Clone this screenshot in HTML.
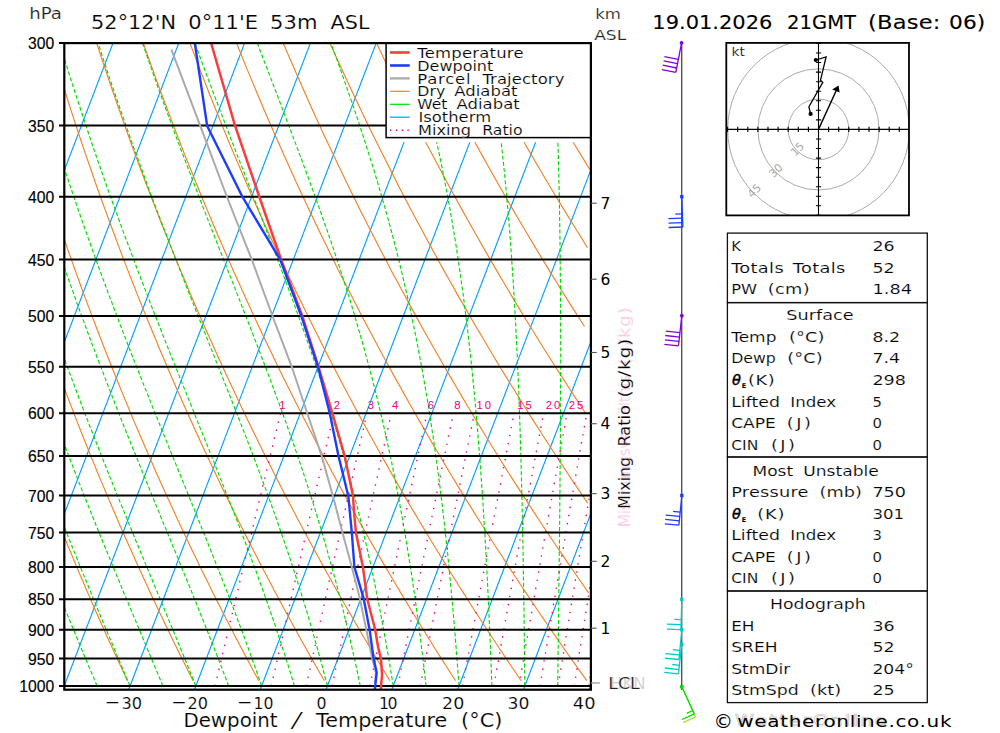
<!DOCTYPE html>
<html lang="en"><head><meta charset="utf-8"><title>Skew-T sounding 52°12'N 0°11'E</title>
<style>
html,body{margin:0;padding:0;background:#fff}
body{width:1000px;height:733px;overflow:hidden}
svg{display:block}
text{font-family:"DejaVu Sans","Liberation Sans",sans-serif;white-space:pre}
.hv text,text.hv{font-family:"Liberation Sans","DejaVu Sans",sans-serif}
.thb{font-style:italic;font-size:14.5px;stroke:#000;stroke-width:.45px}
.ths{font-weight:bold;font-size:6.5px;stroke:none}
</style></head><body>
<svg width="1000" height="733" viewBox="0 0 1000 733">
<defs>
<clipPath id="cc"><rect x="64.3" y="43.1" width="526.6" height="646.6"/></clipPath>
<clipPath id="hc"><rect x="726.3" y="42.9" width="182.7" height="172.5"/></clipPath>
</defs>
<rect width="1000" height="733" fill="#fff"/>
<g clip-path="url(#cc)" fill="none" stroke-width="1.15">
<g stroke="rgb(0,160,255)">
<path d="M-463.6 689.7L-216 43.1" />
<path d="M-397.8 689.7L-150.2 43.1" />
<path d="M-332 689.7L-84.4 43.1" />
<path d="M-266.2 689.7L-18.6 43.1" />
<path d="M-200.4 689.7L47.2 43.1" />
<path d="M-134.6 689.7L113 43.1" />
<path d="M-68.8 689.7L178.8 43.1" />
<path d="M-3 689.7L244.6 43.1" />
<path d="M62.8 689.7L310.4 43.1" />
<path d="M128.6 689.7L376.2 43.1" />
<path d="M194.4 689.7L442 43.1" />
<path d="M260.2 689.7L507.8 43.1" />
<path d="M326 689.7L573.6 43.1" />
<path d="M391.8 689.7L639.4 43.1" />
<path d="M457.6 689.7L705.2 43.1" />
<path d="M523.4 689.7L771 43.1" />
<path d="M589.2 689.7L836.8 43.1" />
</g>
<g stroke="rgb(240,130,40)">
<path d="M62.5 532.4L65.4 539.5L68.2 546.5L71.1 553.3L73.9 560.1L76.7 566.9L79.5 573.5L82.3 580L85.1 586.5L87.8 592.9L90.6 599.2L93.3 605.5L96 611.7L98.7 617.8L101.4 623.8L104.1 629.8L106.7 635.7L109.4 641.5L112 647.3L114.6 653L117.2 658.6L119.8 664.2L122.4 669.8L124.9 675.2L127.5 680.7" />
<path d="M63.4 385.8L66.9 395.1L70.4 404.3L73.9 413.2L77.3 422.1L80.7 430.8L84.1 439.3L87.5 447.7L90.8 456L94.1 464.1L97.4 472.2L100.7 480.1L104 487.9L107.2 495.6L110.4 503.1L113.6 510.6L116.8 518L119.9 525.2L123.1 532.4L126.2 539.5L129.3 546.5L132.4 553.3L135.4 560.1L138.5 566.9L141.5 573.5L144.5 580L147.5 586.5L150.4 592.9L153.4 599.2L156.3 605.5L159.2 611.7L162.2 617.8L165 623.8L167.9 629.8L170.8 635.7L173.6 641.5L176.4 647.3L179.2 653L182 658.6L184.8 664.2L187.6 669.8L190.3 675.2L193.1 680.7" />
<path d="M62.9 235.3L67.1 247.6L71.4 259.6L75.6 271.4L79.7 282.8L83.8 294.1L87.9 305.1L92 315.9L96 326.5L100 336.8L103.9 347L107.9 357L111.7 366.8L115.6 376.4L119.4 385.8L123.2 395.1L127 404.3L130.7 413.2L134.4 422.1L138.1 430.8L141.8 439.3L145.4 447.7L149 456L152.6 464.1L156.1 472.2L159.6 480.1L163.2 487.9L166.6 495.6L170.1 503.1L173.5 510.6L176.9 518L180.3 525.2L183.7 532.4L187 539.5L190.3 546.5L193.6 553.3L196.9 560.1L200.2 566.9L203.4 573.5L206.7 580L209.9 586.5L213 592.9L216.2 599.2L219.4 605.5L222.5 611.7L225.6 617.8L228.7 623.8L231.8 629.8L234.8 635.7L237.9 641.5L240.9 647.3L243.9 653L246.9 658.6L249.9 664.2L252.8 669.8L255.8 675.2L258.7 680.7" />
<path d="M60.6 77.6L65.8 94L70.9 109.9L75.9 125.4L80.9 140.5L85.9 155.1L90.8 169.3L95.6 183.2L100.4 196.7L105.2 209.9L109.9 222.8L114.6 235.3L119.2 247.6L123.7 259.6L128.3 271.4L132.7 282.8L137.2 294.1L141.6 305.1L146 315.9L150.3 326.5L154.6 336.8L158.8 347L163 357L167.2 366.8L171.3 376.4L175.4 385.8L179.5 395.1L183.6 404.3L187.6 413.2L191.6 422.1L195.5 430.8L199.4 439.3L203.3 447.7L207.2 456L211 464.1L214.8 472.2L218.6 480.1L222.3 487.9L226 495.6L229.7 503.1L233.4 510.6L237.1 518L240.7 525.2L244.3 532.4L247.9 539.5L251.4 546.5L254.9 553.3L258.4 560.1L261.9 566.9L265.4 573.5L268.8 580L272.2 586.5L275.6 592.9L279 599.2L282.4 605.5L285.7 611.7L289 617.8L292.3 623.8L295.6 629.8L298.9 635.7L302.1 641.5L305.3 647.3L308.5 653L311.7 658.6L314.9 664.2L318 669.8L321.2 675.2L324.3 680.7" />
<path d="M96.7 43.1L102.4 60.6L108.1 77.6L113.7 94L119.2 109.9L124.7 125.4L130.1 140.5L135.4 155.1L140.7 169.3L145.9 183.2L151.1 196.7L156.2 209.9L161.2 222.8L166.3 235.3L171.2 247.6L176.1 259.6L181 271.4L185.8 282.8L190.5 294.1L195.2 305.1L199.9 315.9L204.5 326.5L209.1 336.8L213.7 347L218.2 357L222.7 366.8L227.1 376.4L231.5 385.8L235.8 395.1L240.1 404.3L244.4 413.2L248.7 422.1L252.9 430.8L257.1 439.3L261.2 447.7L265.3 456L269.4 464.1L273.5 472.2L277.5 480.1L281.5 487.9L285.5 495.6L289.4 503.1L293.3 510.6L297.2 518L301.1 525.2L304.9 532.4L308.7 539.5L312.5 546.5L316.2 553.3L319.9 560.1L323.7 566.9L327.3 573.5L331 580L334.6 586.5L338.2 592.9L341.8 599.2L345.4 605.5L348.9 611.7L352.5 617.8L356 623.8L359.5 629.8L362.9 635.7L366.4 641.5L369.8 647.3L373.2 653L376.6 658.6L379.9 664.2L383.3 669.8L386.6 675.2L389.9 680.7" />
<path d="M143.3 43.1L149.5 60.6L155.6 77.6L161.6 94L167.5 109.9L173.4 125.4L179.2 140.5L184.9 155.1L190.6 169.3L196.2 183.2L201.7 196.7L207.2 209.9L212.6 222.8L217.9 235.3L223.2 247.6L228.5 259.6L233.7 271.4L238.8 282.8L243.9 294.1L248.9 305.1L253.9 315.9L258.8 326.5L263.7 336.8L268.6 347L273.4 357L278.1 366.8L282.8 376.4L287.5 385.8L292.1 395.1L296.7 404.3L301.3 413.2L305.8 422.1L310.3 430.8L314.7 439.3L319.1 447.7L323.5 456L327.9 464.1L332.2 472.2L336.4 480.1L340.7 487.9L344.9 495.6L349.1 503.1L353.2 510.6L357.3 518L361.4 525.2L365.5 532.4L369.5 539.5L373.5 546.5L377.5 553.3L381.5 560.1L385.4 566.9L389.3 573.5L393.2 580L397 586.5L400.8 592.9L404.6 599.2L408.4 605.5L412.2 611.7L415.9 617.8L419.6 623.8L423.3 629.8L427 635.7L430.6 641.5L434.2 647.3L437.8 653L441.4 658.6L445 664.2L448.5 669.8L452 675.2L455.5 680.7" />
<path d="M189.9 43.1L196.6 60.6L203.1 77.6L209.5 94L215.9 109.9L222.1 125.4L228.3 140.5L234.4 155.1L240.5 169.3L246.4 183.2L252.3 196.7L258.2 209.9L263.9 222.8L269.6 235.3L275.3 247.6L280.8 259.6L286.4 271.4L291.8 282.8L297.2 294.1L302.6 305.1L307.9 315.9L313.1 326.5L318.3 336.8L323.4 347L328.5 357L333.6 366.8L338.6 376.4L343.5 385.8L348.4 395.1L353.3 404.3L358.1 413.2L362.9 422.1L367.7 430.8L372.4 439.3L377.1 447.7L381.7 456L386.3 464.1L390.8 472.2L395.4 480.1L399.8 487.9L404.3 495.6L408.7 503.1L413.1 510.6L417.5 518L421.8 525.2L426.1 532.4L430.4 539.5L434.6 546.5L438.8 553.3L443 560.1L447.1 566.9L451.2 573.5L455.3 580L459.4 586.5L463.4 592.9L467.5 599.2L471.4 605.5L475.4 611.7L479.3 617.8L483.3 623.8L487.1 629.8L491 635.7L494.9 641.5L498.7 647.3L502.5 653L506.2 658.6L510 664.2L513.7 669.8L517.4 675.2L521.1 680.7" />
<path d="M236.6 43.1L243.6 60.6L250.6 77.6L257.4 94L264.2 109.9L270.9 125.4L277.5 140.5L284 155.1L290.4 169.3L296.7 183.2L303 196.7L309.2 209.9L315.3 222.8L321.3 235.3L327.3 247.6L333.2 259.6L339 271.4L344.8 282.8L350.6 294.1L356.2 305.1L361.8 315.9L367.4 326.5L372.9 336.8L378.3 347L383.7 357L389 366.8L394.3 376.4L399.6 385.8L404.8 395.1L409.9 404.3L415 413.2L420.1 422.1L425.1 430.8L430 439.3L435 447.7L439.9 456L444.7 464.1L449.5 472.2L454.3 480.1L459 487.9L463.7 495.6L468.4 503.1L473 510.6L477.6 518L482.2 525.2L486.7 532.4L491.2 539.5L495.6 546.5L500.1 553.3L504.5 560.1L508.8 566.9L513.2 573.5L517.5 580L521.8 586.5L526 592.9L530.3 599.2L534.5 605.5L538.6 611.7L542.8 617.8L546.9 623.8L551 629.8L555.1 635.7L559.1 641.5L563.1 647.3L567.1 653L571.1 658.6L575 664.2L579 669.8L582.9 675.2L586.7 680.7" />
<path d="M283.2 43.1L290.7 60.6L298.1 77.6L305.4 94L312.5 109.9L319.6 125.4L326.6 140.5L333.5 155.1L340.3 169.3L347 183.2L353.6 196.7L360.1 209.9L366.6 222.8L373 235.3L379.3 247.6L385.6 259.6L391.7 271.4L397.9 282.8L403.9 294.1L409.9 305.1L415.8 315.9L421.6 326.5L427.4 336.8L433.2 347L438.9 357L444.5 366.8L450.1 376.4L455.6 385.8L461.1 395.1L466.5 404.3L471.9 413.2L477.2 422.1L482.5 430.8L487.7 439.3L492.9 447.7L498 456L503.1 464.1L508.2 472.2L513.2 480.1L518.2 487.9L523.1 495.6L528 503.1L532.9 510.6L537.7 518L542.5 525.2L547.3 532.4L552 539.5L556.7 546.5L561.4 553.3L566 560.1L570.6 566.9L575.1 573.5L579.7 580L584.2 586.5L588.6 592.9" />
<path d="M329.8 43.1L337.8 60.6L345.6 77.6L353.3 94L360.9 109.9L368.3 125.4L375.7 140.5L383 155.1L390.2 169.3L397.2 183.2L404.2 196.7L411.1 209.9L418 222.8L424.7 235.3L431.4 247.6L437.9 259.6L444.4 271.4L450.9 282.8L457.2 294.1L463.5 305.1L469.8 315.9L475.9 326.5L482 336.8L488.1 347L494 357L499.9 366.8L505.8 376.4L511.6 385.8L517.4 395.1L523.1 404.3L528.7 413.2L534.3 422.1L539.9 430.8L545.3 439.3L550.8 447.7L556.2 456L561.6 464.1L566.9 472.2L572.1 480.1L577.4 487.9L582.6 495.6L587.7 503.1" />
<path d="M376.5 43.1L384.8 60.6L393.1 77.6L401.2 94L409.2 109.9L417.1 125.4L424.8 140.5L432.5 155.1L440.1 169.3L447.5 183.2L454.9 196.7L462.1 209.9L469.3 222.8L476.4 235.3L483.4 247.6L490.3 259.6L497.1 271.4L503.9 282.8L510.6 294.1L517.2 305.1L523.7 315.9L530.2 326.5L536.6 336.8L542.9 347L549.2 357L555.4 366.8L561.6 376.4L567.6 385.8L573.7 395.1L579.6 404.3L585.6 413.2" />
<path d="M423.1 43.1L431.9 60.6L440.6 77.6L449.1 94L457.5 109.9L465.8 125.4L474 140.5L482 155.1L489.9 169.3L497.8 183.2L505.5 196.7L513.1 209.9L520.6 222.8L528.1 235.3L535.4 247.6L542.7 259.6L549.8 271.4L556.9 282.8L563.9 294.1L570.8 305.1L577.7 315.9L584.5 326.5" />
<path d="M469.7 43.1L479 60.6L488.1 77.6L497 94L505.9 109.9L514.5 125.4L523.1 140.5L531.5 155.1L539.8 169.3L548 183.2L556.1 196.7L564.1 209.9L572 222.8L579.8 235.3L587.4 247.6" />
<path d="M516.4 43.1L526.1 60.6L535.6 77.6L545 94L554.2 109.9L563.3 125.4L572.2 140.5L581 155.1L589.7 169.3" />
<path d="M563 43.1L573.1 60.6L583.1 77.6" />
</g>
<g stroke="rgb(0,220,0)" stroke-dasharray="4 2.2">
<path d="M64.2 686L62 680.7L59.7 675.2L57.4 669.8L55.2 664.2L52.9 658.6L50.5 653L48.2 647.3L45.9 641.5L43.5 635.7L41.1 629.8L38.7 623.8L36.3 617.8L33.9 611.7L31.4 605.5L29 599.2L26.5 592.9L24 586.5L21.5 580L18.9 573.5L16.4 566.9L13.8 560.1L11.3 553.3L8.7 546.5L6 539.5L3.4 532.4L0.8 525.2L-1.9 518L-4.6 510.6L-7.3 503.1L-10 495.6L-12.7 487.9L-15.5 480.1L-18.2 472.2L-21 464.1L-23.8 456L-26.7 447.7L-29.5 439.3L-32.4 430.8L-35.2 422.1L-38.1 413.2L-41.1 404.3L-44 395.1L-47 385.8L-49.9 376.4L-52.9 366.8L-56 357L-59 347L-62.1 336.8L-65.1 326.5L-68.2 315.9L-71.4 305.1L-74.5 294.1L-77.7 282.8L-80.9 271.4L-84.1 259.6L-87.3 247.6L-90.6 235.3L-93.9 222.8L-97.2 209.9L-100.5 196.7L-103.8 183.2L-107.2 169.3L-110.6 155.1L-114 140.5L-117.5 125.4L-120.9 109.9L-124.4 94L-127.9 77.6L-131.5 60.6L-135 43.1" />
<path d="M97.1 686L94.8 680.7L92.6 675.2L90.2 669.8L87.9 664.2L85.6 658.6L83.2 653L80.8 647.3L78.4 641.5L76 635.7L73.6 629.8L71.1 623.8L68.6 617.8L66.1 611.7L63.6 605.5L61.1 599.2L58.5 592.9L56 586.5L53.4 580L50.8 573.5L48.1 566.9L45.5 560.1L42.8 553.3L40.1 546.5L37.4 539.5L34.7 532.4L32 525.2L29.2 518L26.4 510.6L23.6 503.1L20.8 495.6L17.9 487.9L15.1 480.1L12.2 472.2L9.3 464.1L6.3 456L3.4 447.7L0.4 439.3L-2.6 430.8L-5.6 422.1L-8.6 413.2L-11.7 404.3L-14.7 395.1L-17.8 385.8L-21 376.4L-24.1 366.8L-27.3 357L-30.5 347L-33.7 336.8L-36.9 326.5L-40.2 315.9L-43.5 305.1L-46.8 294.1L-50.1 282.8L-53.5 271.4L-56.8 259.6L-60.2 247.6L-63.7 235.3L-67.1 222.8L-70.6 209.9L-74.1 196.7L-77.7 183.2L-81.2 169.3L-84.8 155.1L-88.5 140.5L-92.1 125.4L-95.8 109.9L-99.5 94L-103.2 77.6L-107 60.6L-110.7 43.1" />
<path d="M130 686L127.7 680.7L125.4 675.2L123.1 669.8L120.8 664.2L118.4 658.6L116 653L113.6 647.3L111.2 641.5L108.8 635.7L106.3 629.8L103.8 623.8L101.3 617.8L98.7 611.7L96.2 605.5L93.6 599.2L91 592.9L88.4 586.5L85.7 580L83 573.5L80.3 566.9L77.6 560.1L74.9 553.3L72.1 546.5L69.3 539.5L66.5 532.4L63.7 525.2L60.8 518L57.9 510.6L55 503.1L52.1 495.6L49.1 487.9L46.2 480.1L43.2 472.2L40.2 464.1L37.1 456L34 447.7L30.9 439.3L27.8 430.8L24.7 422.1L21.5 413.2L18.3 404.3L15.1 395.1L11.9 385.8L8.6 376.4L5.3 366.8L2 357L-1.3 347L-4.7 336.8L-8.1 326.5L-11.5 315.9L-14.9 305.1L-18.4 294.1L-21.9 282.8L-25.4 271.4L-29 259.6L-32.6 247.6L-36.2 235.3L-39.8 222.8L-43.5 209.9L-47.2 196.7L-50.9 183.2L-54.7 169.3L-58.5 155.1L-62.3 140.5L-66.2 125.4L-70.1 109.9L-74 94L-77.9 77.6L-81.9 60.6L-85.9 43.1" />
<path d="M162.9 686L160.7 680.7L158.4 675.2L156.1 669.8L153.8 664.2L151.5 658.6L149.1 653L146.7 647.3L144.3 641.5L141.8 635.7L139.4 629.8L136.9 623.8L134.3 617.8L131.8 611.7L129.2 605.5L126.6 599.2L123.9 592.9L121.3 586.5L118.6 580L115.9 573.5L113.1 566.9L110.4 560.1L107.6 553.3L104.7 546.5L101.9 539.5L99 532.4L96.1 525.2L93.2 518L90.2 510.6L87.2 503.1L84.2 495.6L81.2 487.9L78.1 480.1L75 472.2L71.9 464.1L68.7 456L65.6 447.7L62.3 439.3L59.1 430.8L55.9 422.1L52.6 413.2L49.2 404.3L45.9 395.1L42.5 385.8L39.1 376.4L35.7 366.8L32.2 357L28.8 347L25.2 336.8L21.7 326.5L18.1 315.9L14.5 305.1L10.9 294.1L7.2 282.8L3.5 271.4L-0.2 259.6L-4 247.6L-7.8 235.3L-11.6 222.8L-15.5 209.9L-19.4 196.7L-23.3 183.2L-27.3 169.3L-31.3 155.1L-35.3 140.5L-39.4 125.4L-43.5 109.9L-47.6 94L-51.8 77.6L-56 60.6L-60.3 43.1" />
<path d="M195.8 686L193.7 680.7L191.5 675.2L189.2 669.8L187 664.2L184.7 658.6L182.4 653L180.1 647.3L177.7 641.5L175.3 635.7L172.9 629.8L170.4 623.8L167.9 617.8L165.4 611.7L162.8 605.5L160.2 599.2L157.6 592.9L154.9 586.5L152.2 580L149.5 573.5L146.8 566.9L144 560.1L141.2 553.3L138.3 546.5L135.4 539.5L132.5 532.4L129.6 525.2L126.6 518L123.6 510.6L120.5 503.1L117.4 495.6L114.3 487.9L111.2 480.1L108 472.2L104.8 464.1L101.5 456L98.3 447.7L95 439.3L91.6 430.8L88.3 422.1L84.8 413.2L81.4 404.3L77.9 395.1L74.4 385.8L70.9 376.4L67.3 366.8L63.7 357L60.1 347L56.4 336.8L52.7 326.5L49 315.9L45.2 305.1L41.4 294.1L37.6 282.8L33.7 271.4L29.8 259.6L25.8 247.6L21.8 235.3L17.8 222.8L13.8 209.9L9.7 196.7L5.5 183.2L1.4 169.3L-2.9 155.1L-7.1 140.5L-11.4 125.4L-15.8 109.9L-20.1 94L-24.6 77.6L-29 60.6L-33.5 43.1" />
<path d="M228.7 686L226.7 680.7L224.6 675.2L222.5 669.8L220.4 664.2L218.2 658.6L216 653L213.8 647.3L211.5 641.5L209.2 635.7L206.9 629.8L204.5 623.8L202.1 617.8L199.6 611.7L197.2 605.5L194.6 599.2L192.1 592.9L189.5 586.5L186.8 580L184.1 573.5L181.4 566.9L178.7 560.1L175.9 553.3L173 546.5L170.2 539.5L167.3 532.4L164.3 525.2L161.3 518L158.3 510.6L155.2 503.1L152.1 495.6L149 487.9L145.8 480.1L142.5 472.2L139.3 464.1L136 456L132.6 447.7L129.2 439.3L125.8 430.8L122.3 422.1L118.8 413.2L115.3 404.3L111.7 395.1L108.1 385.8L104.5 376.4L100.8 366.8L97 357L93.2 347L89.4 336.8L85.6 326.5L81.7 315.9L77.7 305.1L73.8 294.1L69.8 282.8L65.7 271.4L61.6 259.6L57.5 247.6L53.3 235.3L49.1 222.8L44.8 209.9L40.5 196.7L36.1 183.2L31.8 169.3L27.3 155.1L22.8 140.5L18.3 125.4L13.7 109.9L9.1 94L4.4 77.6L-0.3 60.6L-5.1 43.1" />
<path d="M261.6 686L259.8 680.7L257.9 675.2L256 669.8L254 664.2L252 658.6L250 653L247.9 647.3L245.8 641.5L243.7 635.7L241.5 629.8L239.2 623.8L237 617.8L234.7 611.7L232.3 605.5L229.9 599.2L227.5 592.9L225 586.5L222.5 580L219.9 573.5L217.3 566.9L214.6 560.1L211.9 553.3L209.2 546.5L206.4 539.5L203.5 532.4L200.6 525.2L197.7 518L194.7 510.6L191.7 503.1L188.6 495.6L185.5 487.9L182.3 480.1L179.1 472.2L175.8 464.1L172.5 456L169.1 447.7L165.7 439.3L162.2 430.8L158.7 422.1L155.1 413.2L151.5 404.3L147.9 395.1L144.1 385.8L140.4 376.4L136.6 366.8L132.7 357L128.8 347L124.9 336.8L120.9 326.5L116.9 315.9L112.8 305.1L108.6 294.1L104.5 282.8L100.2 271.4L95.9 259.6L91.6 247.6L87.2 235.3L82.8 222.8L78.3 209.9L73.8 196.7L69.2 183.2L64.6 169.3L59.9 155.1L55.2 140.5L50.4 125.4L45.6 109.9L40.7 94L35.7 77.6L30.7 60.6L25.7 43.1" />
<path d="M294.5 686L292.9 680.7L291.2 675.2L289.5 669.8L287.8 664.2L286 658.6L284.2 653L282.3 647.3L280.5 641.5L278.5 635.7L276.6 629.8L274.6 623.8L272.5 617.8L270.4 611.7L268.3 605.5L266.1 599.2L263.8 592.9L261.6 586.5L259.2 580L256.9 573.5L254.4 566.9L251.9 560.1L249.4 553.3L246.8 546.5L244.2 539.5L241.5 532.4L238.8 525.2L236 518L233.1 510.6L230.2 503.1L227.2 495.6L224.2 487.9L221.1 480.1L217.9 472.2L214.7 464.1L211.5 456L208.2 447.7L204.8 439.3L201.3 430.8L197.8 422.1L194.3 413.2L190.6 404.3L187 395.1L183.2 385.8L179.4 376.4L175.6 366.8L171.6 357L167.6 347L163.6 336.8L159.5 326.5L155.3 315.9L151.1 305.1L146.9 294.1L142.5 282.8L138.1 271.4L133.7 259.6L129.2 247.6L124.6 235.3L120 222.8L115.3 209.9L110.5 196.7L105.7 183.2L100.8 169.3L95.9 155.1L90.9 140.5L85.9 125.4L80.8 109.9L75.6 94L70.3 77.6L65 60.6L59.7 43.1" />
<path d="M327.4 686L326 680.7L324.6 675.2L323.2 669.8L321.7 664.2L320.2 658.6L318.6 653L317.1 647.3L315.4 641.5L313.8 635.7L312.1 629.8L310.4 623.8L308.6 617.8L306.8 611.7L304.9 605.5L303 599.2L301 592.9L299 586.5L297 580L294.9 573.5L292.7 566.9L290.5 560.1L288.2 553.3L285.9 546.5L283.5 539.5L281.1 532.4L278.6 525.2L276.1 518L273.4 510.6L270.8 503.1L268 495.6L265.2 487.9L262.3 480.1L259.4 472.2L256.4 464.1L253.3 456L250.1 447.7L246.9 439.3L243.6 430.8L240.2 422.1L236.7 413.2L233.2 404.3L229.6 395.1L225.9 385.8L222.2 376.4L218.4 366.8L214.4 357L210.5 347L206.4 336.8L202.3 326.5L198.1 315.9L193.8 305.1L189.4 294.1L185 282.8L180.5 271.4L175.9 259.6L171.2 247.6L166.5 235.3L161.6 222.8L156.8 209.9L151.8 196.7L146.8 183.2L141.7 169.3L136.5 155.1L131.2 140.5L125.9 125.4L120.5 109.9L115 94L109.4 77.6L103.8 60.6L98.1 43.1" />
<path d="M360.3 686L359.2 680.7L358.1 675.2L356.9 669.8L355.7 664.2L354.5 658.6L353.2 653L351.9 647.3L350.6 641.5L349.2 635.7L347.9 629.8L346.4 623.8L345 617.8L343.5 611.7L341.9 605.5L340.4 599.2L338.7 592.9L337.1 586.5L335.4 580L333.6 573.5L331.8 566.9L329.9 560.1L328 553.3L326.1 546.5L324 539.5L322 532.4L319.8 525.2L317.6 518L315.4 510.6L313.1 503.1L310.7 495.6L308.2 487.9L305.7 480.1L303.1 472.2L300.4 464.1L297.6 456L294.8 447.7L291.9 439.3L288.9 430.8L285.8 422.1L282.6 413.2L279.3 404.3L276 395.1L272.5 385.8L269 376.4L265.4 366.8L261.6 357L257.8 347L253.9 336.8L249.9 326.5L245.7 315.9L241.5 305.1L237.2 294.1L232.8 282.8L228.2 271.4L223.6 259.6L218.9 247.6L214.1 235.3L209.1 222.8L204.1 209.9L199 196.7L193.8 183.2L188.5 169.3L183.1 155.1L177.5 140.5L171.9 125.4L166.2 109.9L160.4 94L154.6 77.6L148.6 60.6L142.5 43.1" />
<path d="M393.2 686L392.4 680.7L391.5 675.2L390.6 669.8L389.7 664.2L388.7 658.6L387.8 653L386.8 647.3L385.8 641.5L384.7 635.7L383.7 629.8L382.6 623.8L381.4 617.8L380.3 611.7L379.1 605.5L377.9 599.2L376.6 592.9L375.3 586.5L374 580L372.6 573.5L371.2 566.9L369.7 560.1L368.2 553.3L366.7 546.5L365.1 539.5L363.4 532.4L361.7 525.2L360 518L358.2 510.6L356.3 503.1L354.4 495.6L352.4 487.9L350.3 480.1L348.2 472.2L346 464.1L343.7 456L341.4 447.7L338.9 439.3L336.4 430.8L333.8 422.1L331.1 413.2L328.3 404.3L325.4 395.1L322.5 385.8L319.4 376.4L316.2 366.8L312.9 357L309.4 347L305.9 336.8L302.2 326.5L298.4 315.9L294.5 305.1L290.5 294.1L286.3 282.8L282 271.4L277.6 259.6L273 247.6L268.3 235.3L263.5 222.8L258.5 209.9L253.4 196.7L248.1 183.2L242.8 169.3L237.2 155.1L231.6 140.5L225.8 125.4L219.9 109.9L213.8 94L207.6 77.6L201.3 60.6L194.9 43.1" />
<path d="M426.1 686L425.5 680.7L424.9 675.2L424.2 669.8L423.6 664.2L422.9 658.6L422.2 653L421.5 647.3L420.8 641.5L420.1 635.7L419.3 629.8L418.5 623.8L417.7 617.8L416.9 611.7L416 605.5L415.2 599.2L414.3 592.9L413.3 586.5L412.4 580L411.4 573.5L410.4 566.9L409.3 560.1L408.2 553.3L407.1 546.5L406 539.5L404.8 532.4L403.5 525.2L402.3 518L400.9 510.6L399.6 503.1L398.2 495.6L396.7 487.9L395.2 480.1L393.6 472.2L392 464.1L390.3 456L388.5 447.7L386.7 439.3L384.8 430.8L382.8 422.1L380.7 413.2L378.6 404.3L376.3 395.1L374 385.8L371.6 376.4L369.1 366.8L366.4 357L363.7 347L360.8 336.8L357.8 326.5L354.7 315.9L351.5 305.1L348.1 294.1L344.5 282.8L340.9 271.4L337 259.6L333 247.6L328.8 235.3L324.4 222.8L319.9 209.9L315.2 196.7L310.3 183.2L305.2 169.3L299.9 155.1L294.4 140.5L288.7 125.4L282.8 109.9L276.8 94L270.5 77.6L264 60.6L257.3 43.1" />
<path d="M459 686L458.6 680.7L458.2 675.2L457.8 669.8L457.4 664.2L457 658.6L456.5 653L456.1 647.3L455.6 641.5L455.2 635.7L454.7 629.8L454.2 623.8L453.7 617.8L453.1 611.7L452.6 605.5L452 599.2L451.4 592.9L450.8 586.5L450.2 580L449.6 573.5L448.9 566.9L448.3 560.1L447.6 553.3L446.8 546.5L446.1 539.5L445.3 532.4L444.5 525.2L443.7 518L442.8 510.6L442 503.1L441 495.6L440.1 487.9L439.1 480.1L438 472.2L437 464.1L435.8 456L434.7 447.7L433.5 439.3L432.2 430.8L430.9 422.1L429.5 413.2L428.1 404.3L426.5 395.1L425 385.8L423.3 376.4L421.6 366.8L419.8 357L417.9 347L415.9 336.8L413.8 326.5L411.6 315.9L409.3 305.1L406.8 294.1L404.2 282.8L401.5 271.4L398.7 259.6L395.7 247.6L392.5 235.3L389.1 222.8L385.6 209.9L381.8 196.7L377.8 183.2L373.7 169.3L369.2 155.1L364.6 140.5L359.7 125.4L354.5 109.9L349 94L343.3 77.6L337.3 60.6L330.9 43.1" />
<path d="M491.9 686L491.7 680.7L491.5 675.2L491.3 669.8L491.1 664.2L490.9 658.6L490.6 653L490.4 647.3L490.2 641.5L489.9 635.7L489.7 629.8L489.4 623.8L489.1 617.8L488.9 611.7L488.6 605.5L488.3 599.2L488 592.9L487.7 586.5L487.4 580L487 573.5L486.7 566.9L486.3 560.1L486 553.3L485.6 546.5L485.2 539.5L484.8 532.4L484.3 525.2L483.9 518L483.4 510.6L483 503.1L482.5 495.6L481.9 487.9L481.4 480.1L480.8 472.2L480.2 464.1L479.6 456L479 447.7L478.3 439.3L477.6 430.8L476.9 422.1L476.1 413.2L475.3 404.3L474.5 395.1L473.6 385.8L472.6 376.4L471.7 366.8L470.6 357L469.5 347L468.4 336.8L467.2 326.5L465.9 315.9L464.5 305.1L463.1 294.1L461.5 282.8L459.9 271.4L458.2 259.6L456.4 247.6L454.4 235.3L452.3 222.8L450.1 209.9L447.7 196.7L445.1 183.2L442.4 169.3L439.5 155.1L436.3 140.5L433 125.4L429.3 109.9L425.4 94L421.2 77.6L416.7 60.6L411.8 43.1" />
<path d="M524.8 686L524.8 680.7L524.7 675.2L524.7 669.8L524.6 664.2L524.5 658.6L524.5 653L524.4 647.3L524.3 641.5L524.3 635.7L524.2 629.8L524.1 623.8L524.1 617.8L524 611.7L523.9 605.5L523.8 599.2L523.7 592.9L523.6 586.5L523.5 580L523.4 573.5L523.3 566.9L523.2 560.1L523.1 553.3L523 546.5L522.8 539.5L522.7 532.4L522.6 525.2L522.4 518L522.2 510.6L522.1 503.1L521.9 495.6L521.7 487.9L521.5 480.1L521.3 472.2L521.1 464.1L520.9 456L520.6 447.7L520.4 439.3L520.1 430.8L519.8 422.1L519.5 413.2L519.2 404.3L518.9 395.1L518.5 385.8L518.1 376.4L517.7 366.8L517.3 357L516.8 347L516.3 336.8L515.8 326.5L515.2 315.9L514.6 305.1L514 294.1L513.3 282.8L512.5 271.4L511.7 259.6L510.9 247.6L510 235.3L509 222.8L507.9 209.9L506.7 196.7L505.5 183.2L504.1 169.3L502.6 155.1L501 140.5L499.2 125.4L497.3 109.9L495.2 94L492.9 77.6L490.4 60.6L487.6 43.1" />
<path d="M557.7 686L557.8 680.7L557.8 675.2L557.9 669.8L558 664.2L558 658.6L558.1 653L558.2 647.3L558.3 641.5L558.3 635.7L558.4 629.8L558.5 623.8L558.5 617.8L558.6 611.7L558.7 605.5L558.8 599.2L558.8 592.9L558.9 586.5L559 580L559.1 573.5L559.2 566.9L559.2 560.1L559.3 553.3L559.4 546.5L559.5 539.5L559.5 532.4L559.6 525.2L559.7 518L559.8 510.6L559.8 503.1L559.9 495.6L560 487.9L560 480.1L560.1 472.2L560.2 464.1L560.2 456L560.3 447.7L560.4 439.3L560.4 430.8L560.5 422.1L560.5 413.2L560.5 404.3L560.6 395.1L560.6 385.8L560.6 376.4L560.7 366.8L560.7 357L560.7 347L560.7 336.8L560.6 326.5L560.6 315.9L560.6 305.1L560.5 294.1L560.4 282.8L560.3 271.4L560.2 259.6L560.1 247.6L559.9 235.3L559.7 222.8L559.5 209.9L559.3 196.7L559 183.2L558.6 169.3L558.3 155.1L557.8 140.5L557.3 125.4L556.7 109.9L556.1 94L555.3 77.6L554.5 60.6L553.5 43.1" />
</g>
<g stroke="rgb(240,0,130)" stroke-width="1.4" stroke-dasharray="1.4 6.8">
<path d="M215 686L216.3 680.7L217.6 675.2L218.9 669.8L220.2 664.2L221.5 658.6L222.8 653L224.2 647.3L225.6 641.5L227 635.7L228.4 629.8L229.8 623.8L231.2 617.8L232.7 611.7L234.1 605.5L235.6 599.2L237.2 592.9L238.7 586.5L240.2 580L241.8 573.5L243.4 566.9L245 560.1L246.6 553.3L248.3 546.5L250 539.5L251.7 532.4L253.4 525.2L255.2 518L256.9 510.6L258.7 503.1L260.6 495.6L262.4 487.9L264.3 480.1L266.2 472.2L268.2 464.1L270.2 456L272.2 447.7L274.2 439.3L276.3 430.8L278.4 422.1L280.6 413.2" />
<path d="M271.3 686L272.5 680.7L273.7 675.2L275 669.8L276.2 664.2L277.5 658.6L278.8 653L280 647.3L281.4 641.5L282.7 635.7L284 629.8L285.4 623.8L286.7 617.8L288.1 611.7L289.5 605.5L291 599.2L292.4 592.9L293.9 586.5L295.3 580L296.8 573.5L298.4 566.9L299.9 560.1L301.5 553.3L303 546.5L304.6 539.5L306.3 532.4L307.9 525.2L309.6 518L311.3 510.6L313 503.1L314.8 495.6L316.5 487.9L318.3 480.1L320.2 472.2L322 464.1L323.9 456L325.9 447.7L327.8 439.3L329.8 430.8L331.8 422.1L333.9 413.2" />
<path d="M306.3 686L307.4 680.7L308.6 675.2L309.8 669.8L311 664.2L312.3 658.6L313.5 653L314.7 647.3L316 641.5L317.3 635.7L318.6 629.8L319.9 623.8L321.2 617.8L322.6 611.7L323.9 605.5L325.3 599.2L326.7 592.9L328.1 586.5L329.5 580L331 573.5L332.5 566.9L334 560.1L335.5 553.3L337 546.5L338.6 539.5L340.1 532.4L341.7 525.2L343.4 518L345 510.6L346.7 503.1L348.4 495.6L350.1 487.9L351.8 480.1L353.6 472.2L355.4 464.1L357.3 456L359.1 447.7L361 439.3L363 430.8L364.9 422.1L366.9 413.2" />
<path d="M332.1 686L333.2 680.7L334.4 675.2L335.5 669.8L336.7 664.2L337.9 658.6L339.1 653L340.3 647.3L341.6 641.5L342.8 635.7L344.1 629.8L345.4 623.8L346.6 617.8L348 611.7L349.3 605.5L350.6 599.2L352 592.9L353.4 586.5L354.8 580L356.2 573.5L357.6 566.9L359.1 560.1L360.6 553.3L362.1 546.5L363.6 539.5L365.1 532.4L366.7 525.2L368.3 518L369.9 510.6L371.5 503.1L373.2 495.6L374.8 487.9L376.6 480.1L378.3 472.2L380.1 464.1L381.9 456L383.7 447.7L385.5 439.3L387.4 430.8L389.3 422.1L391.3 413.2" />
<path d="M369.9 686L371 680.7L372.1 675.2L373.3 669.8L374.4 664.2L375.5 658.6L376.7 653L377.9 647.3L379.1 641.5L380.3 635.7L381.5 629.8L382.7 623.8L383.9 617.8L385.2 611.7L386.5 605.5L387.8 599.2L389.1 592.9L390.4 586.5L391.8 580L393.1 573.5L394.5 566.9L395.9 560.1L397.3 553.3L398.8 546.5L400.2 539.5L401.7 532.4L403.2 525.2L404.8 518L406.3 510.6L407.9 503.1L409.5 495.6L411.1 487.9L412.8 480.1L414.4 472.2L416.1 464.1L417.9 456L419.6 447.7L421.4 439.3L423.3 430.8L425.1 422.1L427 413.2" />
<path d="M397.9 686L399 680.7L400.1 675.2L401.1 669.8L402.2 664.2L403.3 658.6L404.5 653L405.6 647.3L406.8 641.5L407.9 635.7L409.1 629.8L410.3 623.8L411.5 617.8L412.7 611.7L414 605.5L415.2 599.2L416.5 592.9L417.8 586.5L419.1 580L420.4 573.5L421.8 566.9L423.1 560.1L424.5 553.3L425.9 546.5L427.3 539.5L428.8 532.4L430.2 525.2L431.7 518L433.2 510.6L434.8 503.1L436.3 495.6L437.9 487.9L439.5 480.1L441.1 472.2L442.8 464.1L444.5 456L446.2 447.7L447.9 439.3L449.7 430.8L451.5 422.1L453.4 413.2" />
<path d="M420.3 686L421.3 680.7L422.4 675.2L423.4 669.8L424.5 664.2L425.6 658.6L426.7 653L427.8 647.3L428.9 641.5L430.1 635.7L431.2 629.8L432.4 623.8L433.5 617.8L434.7 611.7L436 605.5L437.2 599.2L438.4 592.9L439.7 586.5L441 580L442.2 573.5L443.6 566.9L444.9 560.1L446.2 553.3L447.6 546.5L449 539.5L450.4 532.4L451.8 525.2L453.3 518L454.7 510.6L456.2 503.1L457.8 495.6L459.3 487.9L460.9 480.1L462.5 472.2L464.1 464.1L465.7 456L467.4 447.7L469.1 439.3L470.8 430.8L472.6 422.1L474.4 413.2" />
<path d="M462.6 686L463.6 680.7L464.5 675.2L465.6 669.8L466.6 664.2L467.6 658.6L468.6 653L469.7 647.3L470.8 641.5L471.8 635.7L472.9 629.8L474 623.8L475.2 617.8L476.3 611.7L477.4 605.5L478.6 599.2L479.8 592.9L481 586.5L482.2 580L483.4 573.5L484.7 566.9L485.9 560.1L487.2 553.3L488.5 546.5L489.9 539.5L491.2 532.4L492.6 525.2L493.9 518L495.3 510.6L496.8 503.1L498.2 495.6L499.7 487.9L501.2 480.1L502.7 472.2L504.3 464.1L505.8 456L507.4 447.7L509.1 439.3L510.7 430.8L512.4 422.1L514.1 413.2" />
<path d="M493.9 686L494.8 680.7L495.8 675.2L496.7 669.8L497.7 664.2L498.7 658.6L499.7 653L500.7 647.3L501.7 641.5L502.8 635.7L503.8 629.8L504.9 623.8L506 617.8L507.1 611.7L508.2 605.5L509.3 599.2L510.4 592.9L511.6 586.5L512.7 580L513.9 573.5L515.1 566.9L516.4 560.1L517.6 553.3L518.8 546.5L520.1 539.5L521.4 532.4L522.7 525.2L524.1 518L525.4 510.6L526.8 503.1L528.2 495.6L529.6 487.9L531 480.1L532.5 472.2L534 464.1L535.5 456L537.1 447.7L538.6 439.3L540.2 430.8L541.9 422.1L543.5 413.2" />
<path d="M519 686L519.9 680.7L520.8 675.2L521.7 669.8L522.7 664.2L523.6 658.6L524.6 653L525.6 647.3L526.6 641.5L527.6 635.7L528.6 629.8L529.6 623.8L530.7 617.8L531.7 611.7L532.8 605.5L533.9 599.2L535 592.9L536.1 586.5L537.2 580L538.4 573.5L539.5 566.9L540.7 560.1L541.9 553.3L543.1 546.5L544.3 539.5L545.6 532.4L546.9 525.2L548.2 518L549.5 510.6L550.8 503.1L552.2 495.6L553.5 487.9L554.9 480.1L556.4 472.2L557.8 464.1L559.3 456L560.8 447.7L562.3 439.3L563.9 430.8L565.4 422.1L567 413.2" />
<path d="M540 686L540.9 680.7L541.8 675.2L542.7 669.8L543.6 664.2L544.5 658.6L545.5 653L546.4 647.3L547.4 641.5L548.4 635.7L549.3 629.8L550.3 623.8L551.4 617.8L552.4 611.7L553.4 605.5L554.5 599.2L555.5 592.9L556.6 586.5L557.7 580L558.8 573.5L560 566.9L561.1 560.1L562.3 553.3L563.5 546.5L564.7 539.5L565.9 532.4L567.1 525.2L568.4 518L569.6 510.6L570.9 503.1L572.3 495.6L573.6 487.9L575 480.1L576.3 472.2L577.8 464.1L579.2 456L580.6 447.7L582.1 439.3L583.6 430.8L585.2 422.1L586.8 413.2" />
<path d="M558.2 686L559.1 680.7L559.9 675.2L560.8 669.8L561.7 664.2L562.6 658.6L563.5 653L564.4 647.3L565.4 641.5L566.3 635.7L567.3 629.8L568.2 623.8L569.2 617.8L570.2 611.7L571.2 605.5L572.3 599.2L573.3 592.9L574.4 586.5L575.4 580L576.5 573.5L577.6 566.9L578.7 560.1L579.9 553.3L581 546.5L582.2 539.5L583.4 532.4L584.6 525.2L585.8 518L587.1 510.6L588.3 503.1L589.6 495.6L590.9 487.9L592.3 480.1L593.6 472.2L595 464.1L596.4 456L597.8 447.7L599.3 439.3L600.7 430.8L602.2 422.1L603.8 413.2" />
<path d="M574.2 686L575.1 680.7L575.9 675.2L576.8 669.8L577.7 664.2L578.5 658.6L579.4 653L580.3 647.3L581.2 641.5L582.2 635.7L583.1 629.8L584.1 623.8L585 617.8L586 611.7L587 605.5L588 599.2L589 592.9L590 586.5L591.1 580L592.1 573.5L593.2 566.9L594.3 560.1L595.4 553.3L596.5 546.5L597.7 539.5L598.8 532.4L600 525.2L601.2 518L602.4 510.6L603.7 503.1L604.9 495.6L606.2 487.9L607.5 480.1L608.8 472.2L610.2 464.1L611.6 456L613 447.7L614.4 439.3L615.8 430.8L617.3 422.1L618.8 413.2" />
<path d="M588.6 686L589.4 680.7L590.3 675.2L591.1 669.8L592 664.2L592.8 658.6L593.7 653L594.6 647.3L595.5 641.5L596.4 635.7L597.3 629.8L598.2 623.8L599.2 617.8L600.1 611.7L601.1 605.5L602.1 599.2L603.1 592.9L604.1 586.5L605.1 580L606.1 573.5L607.2 566.9L608.3 560.1L609.3 553.3L610.4 546.5L611.6 539.5L612.7 532.4L613.9 525.2L615 518L616.2 510.6L617.4 503.1L618.7 495.6L619.9 487.9L621.2 480.1L622.5 472.2L623.8 464.1L625.2 456L626.5 447.7L627.9 439.3L629.3 430.8L630.8 422.1L632.3 413.2" />
</g>
</g>
<g stroke="#000" stroke-width="2">
<line x1="59" y1="43.1" x2="590.9" y2="43.1"/>
<line x1="59" y1="125.4" x2="590.9" y2="125.4"/>
<line x1="59" y1="196.7" x2="590.9" y2="196.7"/>
<line x1="59" y1="259.6" x2="590.9" y2="259.6"/>
<line x1="59" y1="315.9" x2="590.9" y2="315.9"/>
<line x1="59" y1="366.8" x2="590.9" y2="366.8"/>
<line x1="59" y1="413.2" x2="590.9" y2="413.2"/>
<line x1="59" y1="456" x2="590.9" y2="456"/>
<line x1="59" y1="495.6" x2="590.9" y2="495.6"/>
<line x1="59" y1="532.4" x2="590.9" y2="532.4"/>
<line x1="59" y1="566.9" x2="590.9" y2="566.9"/>
<line x1="59" y1="599.2" x2="590.9" y2="599.2"/>
<line x1="59" y1="629.8" x2="590.9" y2="629.8"/>
<line x1="59" y1="658.6" x2="590.9" y2="658.6"/>
<line x1="59" y1="686" x2="590.9" y2="686"/>
</g>
<g class="hv" font-size="17" text-anchor="end" stroke="#000" stroke-width="0.15">
<text x="54.2" y="49.3" textLength="26.2" lengthAdjust="spacingAndGlyphs">300</text>
<text x="54.2" y="131.6" textLength="26.2" lengthAdjust="spacingAndGlyphs">350</text>
<text x="54.2" y="202.9" textLength="26.2" lengthAdjust="spacingAndGlyphs">400</text>
<text x="54.2" y="265.8" textLength="26.2" lengthAdjust="spacingAndGlyphs">450</text>
<text x="54.2" y="322.1" textLength="26.2" lengthAdjust="spacingAndGlyphs">500</text>
<text x="54.2" y="373" textLength="26.2" lengthAdjust="spacingAndGlyphs">550</text>
<text x="54.2" y="419.4" textLength="26.2" lengthAdjust="spacingAndGlyphs">600</text>
<text x="54.2" y="462.2" textLength="26.2" lengthAdjust="spacingAndGlyphs">650</text>
<text x="54.2" y="501.8" textLength="26.2" lengthAdjust="spacingAndGlyphs">700</text>
<text x="54.2" y="538.6" textLength="26.2" lengthAdjust="spacingAndGlyphs">750</text>
<text x="54.2" y="573.1" textLength="26.2" lengthAdjust="spacingAndGlyphs">800</text>
<text x="54.2" y="605.4" textLength="26.2" lengthAdjust="spacingAndGlyphs">850</text>
<text x="54.2" y="636" textLength="26.2" lengthAdjust="spacingAndGlyphs">900</text>
<text x="54.2" y="664.8" textLength="26.2" lengthAdjust="spacingAndGlyphs">950</text>
<text x="54.2" y="692.2" textLength="35" lengthAdjust="spacingAndGlyphs">1000</text>
</g>
<g class="hv" font-size="11.3" text-anchor="middle" fill="rgb(240,0,130)">
<text x="282.4" y="408.9">1</text>
<text x="336.8" y="408.9">2</text>
<text x="371" y="408.9">3</text>
<text x="395.1" y="408.9">4</text>
<text x="430.9" y="408.9">6</text>
<text x="457.5" y="408.9">8</text>
<text x="483.7" y="408.9" textLength="14.6" lengthAdjust="spacing">10</text>
<text x="524.5" y="408.9" textLength="14.6" lengthAdjust="spacing">15</text>
<text x="553" y="408.9" textLength="14.6" lengthAdjust="spacing">20</text>
<text x="576.1" y="408.9" textLength="14.6" lengthAdjust="spacing">25</text>
</g>
<g fill="none" stroke-linejoin="round">
<path d="M171.4 49.6L199.8 124.7L227 197L251.8 259.7L272.5 316L291.8 366.8L307 412.5L321.7 456L332.9 496L342.4 532.3L351.8 567L359.9 598.7L366.3 629.7L372.2 658.6L375.8 672L375.2 683" stroke="rgb(170,170,170)" stroke-width="2.0"/>
<path d="M211.1 43L234.7 124.7L259.4 197L281.2 259.7L302.3 316L318.5 366.8L332.2 412.5L344.7 456L353 496L354 511L355.9 532.3L362.9 567L367.2 598.7L375.2 629.7L378.1 647L380.9 658.6L382.1 674.6L380.7 689.6" stroke="rgb(250,60,60)" stroke-width="2.5"/>
<path d="M194.8 43L207.2 126L242.5 197L280.2 259.7L301.3 316L318 366.8L329.6 412.5L338.5 456L348.3 496L351.8 532.3L354.4 567L363.7 598.7L369.6 629.7L373.6 658.6L376.7 672.6L374.8 689.6" stroke="rgb(30,60,255)" stroke-width="2.4"/>
</g>
<rect x="386.1" y="43.1" width="204.8" height="99.1" fill="#fff"/>
<rect x="386.1" y="43.1" width="204.8" height="94.5" fill="#fff" stroke="#000" stroke-width="1.5"/>
<line x1="390" y1="52.5" x2="409.7" y2="52.5" stroke="rgb(250,60,60)" stroke-width="2.6"/>
<text transform="translate(417.3,57.7) scale(1.200,1)" textLength="88.5" lengthAdjust="spacing" font-size="13.7" stroke="#fff" stroke-width="0.16">Temperature</text>
<line x1="390" y1="65.5" x2="409.7" y2="65.5" stroke="rgb(30,60,255)" stroke-width="2.6"/>
<text transform="translate(417.3,70.6) scale(1.167,1)" textLength="65.1" lengthAdjust="spacing" font-size="13.7" stroke="#fff" stroke-width="0.16">Dewpoint</text>
<line x1="390" y1="78.4" x2="409.7" y2="78.4" stroke="rgb(170,170,170)" stroke-width="2.3"/>
<text transform="translate(417.3,83.5) scale(1.200,1)" textLength="44.3" lengthAdjust="spacing" font-size="13.7" stroke="#fff" stroke-width="0.16">Parcel</text>
<text transform="translate(482.4,83.5) scale(1.200,1)" textLength="68.3" lengthAdjust="spacing" font-size="13.7" stroke="#fff" stroke-width="0.16">Trajectory</text>
<line x1="390" y1="91.3" x2="409.7" y2="91.3" stroke="rgb(240,130,40)" stroke-width="1.2"/>
<text transform="translate(417.3,96.4) scale(1.149,1)" textLength="24.3" lengthAdjust="spacing" font-size="13.7" stroke="#fff" stroke-width="0.16">Dry</text>
<text transform="translate(454.3,96.4) scale(1.200,1)" textLength="52.7" lengthAdjust="spacing" font-size="13.7" stroke="#fff" stroke-width="0.16">Adiabat</text>
<line x1="390" y1="104.3" x2="409.7" y2="104.3" stroke="rgb(0,220,0)" stroke-width="1.2"/>
<text transform="translate(417.3,109.3) scale(1.134,1)" textLength="26.5" lengthAdjust="spacing" font-size="13.7" stroke="#fff" stroke-width="0.16">Wet</text>
<text transform="translate(456.5,109.3) scale(1.200,1)" textLength="52.7" lengthAdjust="spacing" font-size="13.7" stroke="#fff" stroke-width="0.16">Adiabat</text>
<line x1="390" y1="117.2" x2="409.7" y2="117.2" stroke="rgb(0,160,255)" stroke-width="1.2"/>
<text transform="translate(418.4,122.2) scale(1.196,1)" textLength="60.8" lengthAdjust="spacing" font-size="13.7" stroke="#fff" stroke-width="0.16">Isotherm</text>
<line x1="390" y1="130.2" x2="409.7" y2="130.2" stroke="rgb(240,0,130)" stroke-width="1.4" stroke-dasharray="1.4 4.4"/>
<text transform="translate(418,135.1) scale(1.180,1)" textLength="44.9" lengthAdjust="spacing" font-size="13.7" stroke="#fff" stroke-width="0.16">Mixing</text>
<text transform="translate(482.2,135.1) scale(1.149,1)" textLength="35.2" lengthAdjust="spacing" font-size="13.7" stroke="#fff" stroke-width="0.16">Ratio</text>
<rect x="64.3" y="43.1" width="526.6" height="646.6" fill="none" stroke="#000" stroke-width="2.2"/>
<text x="104.4" y="708.9" font-size="15.8" stroke="#fff" stroke-width="0.16"><tspan dy="-1.9" textLength="16.4" lengthAdjust="spacingAndGlyphs">-</tspan><tspan x="121.4" dy="1.9" textLength="20.6" lengthAdjust="spacingAndGlyphs">30</tspan></text>
<text x="170.7" y="708.9" font-size="15.8" stroke="#fff" stroke-width="0.16"><tspan dy="-1.9" textLength="16.4" lengthAdjust="spacingAndGlyphs">-</tspan><tspan x="187.6" dy="1.9" textLength="20.5" lengthAdjust="spacingAndGlyphs">20</tspan></text>
<text x="236.5" y="708.9" font-size="15.8" stroke="#fff" stroke-width="0.16"><tspan dy="-1.9" textLength="16.4" lengthAdjust="spacingAndGlyphs">-</tspan><tspan x="253.4" dy="1.9" textLength="20" lengthAdjust="spacingAndGlyphs">10</tspan></text>
<text x="316.5" y="708.9" font-size="15.8" stroke="#fff" stroke-width="0.16">0</text>
<text transform="translate(379,708.9) scale(1.000,1)" textLength="18.6" lengthAdjust="spacing" font-size="15.8" stroke="#fff" stroke-width="0.16">10</text>
<text transform="translate(442.1,708.9) scale(1.104,1)" textLength="20.1" lengthAdjust="spacing" font-size="15.8" stroke="#fff" stroke-width="0.16">20</text>
<text transform="translate(507.6,708.9) scale(1.089,1)" textLength="20.1" lengthAdjust="spacing" font-size="15.8" stroke="#fff" stroke-width="0.16">30</text>
<text transform="translate(572.8,708.9) scale(1.129,1)" textLength="20.1" lengthAdjust="spacing" font-size="15.8" stroke="#fff" stroke-width="0.16">40</text>
<text transform="translate(183.4,727.3) scale(1.054,1)" textLength="89.4" lengthAdjust="spacing" font-size="18.8" stroke="#fff" stroke-width="0.16">Dewpoint</text>
<g transform="translate(291.2,727.4) skewX(-17)">
<text x="0" y="0" font-size="20.5">/</text>
</g>
<text transform="translate(316.1,727.3) scale(1.102,1)" textLength="119.1" lengthAdjust="spacing" font-size="18.8" stroke="#fff" stroke-width="0.16">Temperature</text>
<text transform="translate(461.1,727.3) scale(1.108,1)" textLength="37.2" lengthAdjust="spacing" font-size="18.8" stroke="#fff" stroke-width="0.16">(°C)</text>
<text transform="translate(29.2,18.8) scale(1.169,1)" textLength="28" lengthAdjust="spacing" font-size="15.5" fill="#222" stroke="#fff" stroke-width="0.16">hPa</text>
<text transform="translate(91.1,28.9) scale(1.110,1)" textLength="76.5" lengthAdjust="spacing" font-size="18.8" stroke="#fff" stroke-width="0.16">52°12'N</text>
<text transform="translate(188.3,28.9) scale(1.121,1)" textLength="62.3" lengthAdjust="spacing" font-size="18.8" stroke="#fff" stroke-width="0.16">0°11'E</text>
<text transform="translate(270.1,28.9) scale(1.122,1)" textLength="42.2" lengthAdjust="spacing" font-size="18.8" stroke="#fff" stroke-width="0.16">53m</text>
<text transform="translate(330.6,28.9) scale(1.103,1)" textLength="35.3" lengthAdjust="spacing" font-size="18.8" stroke="#fff" stroke-width="0.16">ASL</text>
<text transform="translate(652.3,28.8) scale(1.116,1)" textLength="107.6" lengthAdjust="spacing" font-size="18.8" stroke="#000" stroke-width="0.1">19.01.2026</text>
<text transform="translate(787.1,28.8) scale(1.041,1)" textLength="66.2" lengthAdjust="spacing" font-size="18.8" stroke="#000" stroke-width="0.1">21GMT</text>
<text transform="translate(868.1,28.8) scale(1.200,1)" textLength="60.3" lengthAdjust="spacing" font-size="18.8" stroke="#000" stroke-width="0.1">(Base:</text>
<text transform="translate(949.1,28.8) scale(1.155,1)" textLength="31.3" lengthAdjust="spacing" font-size="18.8" stroke="#000" stroke-width="0.1">06)</text>
<text transform="translate(595.3,18.7) scale(1.141,1)" textLength="22.5" lengthAdjust="spacing" font-size="14.5" fill="#222" stroke="#fff" stroke-width="0.16">km</text>
<text transform="translate(594.2,40.1) scale(1.176,1)" textLength="27.2" lengthAdjust="spacing" font-size="14.5" fill="#222" stroke="#fff" stroke-width="0.16">ASL</text>
<line x1="590.9" y1="203.2" x2="596.7" y2="203.2" stroke="#555" stroke-width="1.1"/>
<text x="600.6" y="208.9" font-size="15.5">7</text>
<line x1="590.9" y1="279.2" x2="596.7" y2="279.2" stroke="#555" stroke-width="1.1"/>
<text x="600.6" y="284.9" font-size="15.5">6</text>
<line x1="590.9" y1="352.5" x2="596.7" y2="352.5" stroke="#555" stroke-width="1.1"/>
<text x="600.6" y="358.2" font-size="15.5">5</text>
<line x1="590.9" y1="423.7" x2="596.7" y2="423.7" stroke="#555" stroke-width="1.1"/>
<text x="600.6" y="429.4" font-size="15.5">4</text>
<line x1="590.9" y1="493.6" x2="596.7" y2="493.6" stroke="#555" stroke-width="1.1"/>
<text x="600.6" y="499.3" font-size="15.5">3</text>
<line x1="590.9" y1="561.3" x2="596.7" y2="561.3" stroke="#555" stroke-width="1.1"/>
<text x="600.6" y="567" font-size="15.5">2</text>
<line x1="590.9" y1="628.2" x2="596.7" y2="628.2" stroke="#555" stroke-width="1.1"/>
<text x="600.6" y="633.9" font-size="15.5">1</text>
<line x1="590.9" y1="683" x2="599.8" y2="683" stroke="#999" stroke-width="1.3"/>
<text transform="translate(610,688.8) scale(1.079,1)" textLength="33" lengthAdjust="spacing" font-size="15.3" fill="#cfcfcf" stroke="#fff" stroke-width="0.16">HKN</text>
<text transform="translate(608.3,688.8) scale(1.136,1)" textLength="27.7" lengthAdjust="spacing" font-size="15.3" fill="#222" stroke="#fff" stroke-width="0.16">LCL</text>
<g transform="translate(629.6,507) rotate(-90)" font-size="15.5">
<text transform="translate(-20.2,0) scale(1.000,1)" textLength="152.2" lengthAdjust="spacing" fill="rgb(252,200,226)" stroke="#fff" stroke-width="0.16">Mischungsverhältnis</text>
<text transform="translate(141.3,0) scale(1.200,1)" textLength="48.8" lengthAdjust="spacing" fill="rgb(252,200,226)" stroke="#fff" stroke-width="0.16">(g/kg)</text>
<text transform="translate(-1.7,0) scale(1.021,1)" textLength="50.8" lengthAdjust="spacing" stroke="#fff" stroke-width="0.16">Mixing</text>
<text transform="translate(60.4,0) scale(1.045,1)" textLength="39.8" lengthAdjust="spacing" stroke="#fff" stroke-width="0.16">Ratio</text>
<text transform="translate(109.6,0) scale(1.200,1)" textLength="49" lengthAdjust="spacing" stroke="#fff" stroke-width="0.16">(g/kg)</text>
</g>
<line x1="681.7" y1="43" x2="681.7" y2="690" stroke="#555" stroke-width="1.4"/>
<g stroke="rgb(130,0,220)" stroke-width="1.3" fill="none">
<line x1="681.6" y1="42.8" x2="675.8" y2="72.3"/>
<line x1="675.8" y1="72.3" x2="661.9" y2="69.6"/>
<line x1="676.6" y1="68" x2="662.7" y2="65.2"/>
<line x1="677.5" y1="63.7" x2="663.6" y2="60.9"/>
<line x1="678.3" y1="59.3" x2="664.4" y2="56.6"/>
</g>
<circle cx="681.6" cy="42.8" r="1.9" fill="rgb(130,0,220)"/>
<g stroke="rgb(30,60,255)" stroke-width="1.3" fill="none">
<line x1="681.8" y1="196.7" x2="682.9" y2="227"/>
<line x1="682.9" y1="227" x2="668.7" y2="227.5"/>
<line x1="682.7" y1="222.6" x2="668.5" y2="223.1"/>
<line x1="682.6" y1="218.2" x2="668.4" y2="218.7"/>
<line x1="682.4" y1="213.8" x2="675.3" y2="214.1"/>
</g>
<rect x="680.1" y="195" width="3.4" height="3.4" fill="rgb(30,60,255)"/>
<g stroke="rgb(130,0,220)" stroke-width="1.3" fill="none">
<line x1="681.8" y1="315.7" x2="678.5" y2="345.8"/>
<line x1="678.5" y1="345.8" x2="664.4" y2="344.3"/>
<line x1="679" y1="341.4" x2="664.9" y2="339.9"/>
<line x1="679.5" y1="337.1" x2="665.3" y2="335.5"/>
<line x1="679.9" y1="332.7" x2="665.8" y2="331.1"/>
</g>
<circle cx="681.8" cy="315.7" r="1.9" fill="rgb(130,0,220)"/>
<g stroke="rgb(30,60,255)" stroke-width="1.3" fill="none">
<line x1="681.8" y1="495.5" x2="678.9" y2="525.2"/>
<line x1="678.9" y1="525.2" x2="664.8" y2="523.8"/>
<line x1="679.3" y1="520.8" x2="665.2" y2="519.4"/>
<line x1="679.8" y1="516.4" x2="665.6" y2="515.1"/>
<line x1="680.2" y1="512.1" x2="673.1" y2="511.4"/>
</g>
<rect x="680.1" y="493.8" width="3.4" height="3.4" fill="rgb(30,60,255)"/>
<g stroke="rgb(0,200,200)" stroke-width="1.3" fill="none">
<line x1="681.8" y1="599.4" x2="681" y2="629.6"/>
<line x1="681" y1="629.6" x2="666.8" y2="629.2"/>
<line x1="681.1" y1="624.6" x2="666.9" y2="624.2"/>
<line x1="681.3" y1="619.6" x2="674.2" y2="619.4"/>
</g>
<rect x="680.1" y="597.7" width="3.4" height="3.4" fill="rgb(0,200,200)"/>
<g stroke="rgb(0,200,200)" stroke-width="1.3" fill="none">
<line x1="681.8" y1="629.8" x2="679" y2="659.5"/>
<line x1="679" y1="659.5" x2="664.9" y2="658.2"/>
<line x1="679.4" y1="654.9" x2="665.3" y2="653.6"/>
<line x1="679.9" y1="650.3" x2="672.8" y2="649.7"/>
</g>
<rect x="680.1" y="628.1" width="3.4" height="3.4" fill="rgb(0,200,200)"/>
<g stroke="rgb(0,200,200)" stroke-width="1.3" fill="none">
<line x1="681.8" y1="644.4" x2="678.4" y2="673.9"/>
<line x1="678.4" y1="673.9" x2="664.3" y2="672.3"/>
<line x1="678.9" y1="669.6" x2="664.8" y2="668"/>
<line x1="679.4" y1="665.4" x2="672.3" y2="664.5"/>
</g>
<rect x="680.1" y="642.7" width="3.4" height="3.4" fill="rgb(0,200,200)"/>
<g stroke="rgb(160,230,50)" stroke-width="1.3" fill="none">
<line x1="681.8" y1="686.7" x2="695.5" y2="717"/>
<line x1="695.5" y1="717" x2="683.2" y2="722.6"/>
</g>
<rect x="680.1" y="685" width="3.4" height="3.4" fill="rgb(160,230,50)"/>
<g stroke="rgb(0,220,0)" stroke-width="1.3" fill="none">
<line x1="681.8" y1="686.7" x2="694.3" y2="713.8"/>
<line x1="694.3" y1="713.8" x2="682" y2="719.5"/>
<line x1="692.8" y1="710.5" x2="686.7" y2="713.4"/>
</g>
<rect x="680.1" y="685" width="3.4" height="3.4" fill="rgb(0,220,0)"/>
<g clip-path="url(#hc)">
<circle cx="818.5" cy="129.4" r="30.3" fill="none" stroke="rgb(170,170,170)" stroke-width="1"/>
<circle cx="818.5" cy="129.4" r="60.6" fill="none" stroke="rgb(170,170,170)" stroke-width="1"/>
<circle cx="818.5" cy="129.4" r="90.8" fill="none" stroke="rgb(170,170,170)" stroke-width="1"/>
<g stroke="#000" stroke-width="1.1">
<line x1="726.3" y1="129.4" x2="909" y2="129.4"/>
<line x1="818.5" y1="42.9" x2="818.5" y2="215.4"/>
<line x1="727.6" y1="126.8" x2="727.6" y2="132"/>
<line x1="815.9" y1="43.5" x2="821.1" y2="43.5"/>
<line x1="737.7" y1="126.8" x2="737.7" y2="132"/>
<line x1="815.9" y1="53" x2="821.1" y2="53"/>
<line x1="747.8" y1="126.8" x2="747.8" y2="132"/>
<line x1="815.9" y1="62.5" x2="821.1" y2="62.5"/>
<line x1="757.9" y1="126.8" x2="757.9" y2="132"/>
<line x1="815.9" y1="72.1" x2="821.1" y2="72.1"/>
<line x1="768" y1="126.8" x2="768" y2="132"/>
<line x1="815.9" y1="81.7" x2="821.1" y2="81.7"/>
<line x1="778.1" y1="126.8" x2="778.1" y2="132"/>
<line x1="815.9" y1="91.2" x2="821.1" y2="91.2"/>
<line x1="788.2" y1="126.8" x2="788.2" y2="132"/>
<line x1="815.9" y1="100.8" x2="821.1" y2="100.8"/>
<line x1="798.3" y1="126.8" x2="798.3" y2="132"/>
<line x1="815.9" y1="110.3" x2="821.1" y2="110.3"/>
<line x1="808.4" y1="126.8" x2="808.4" y2="132"/>
<line x1="815.9" y1="119.9" x2="821.1" y2="119.9"/>
<line x1="828.6" y1="126.8" x2="828.6" y2="132"/>
<line x1="815.9" y1="139" x2="821.1" y2="139"/>
<line x1="838.7" y1="126.8" x2="838.7" y2="132"/>
<line x1="815.9" y1="148.5" x2="821.1" y2="148.5"/>
<line x1="848.8" y1="126.8" x2="848.8" y2="132"/>
<line x1="815.9" y1="158.1" x2="821.1" y2="158.1"/>
<line x1="858.9" y1="126.8" x2="858.9" y2="132"/>
<line x1="815.9" y1="167.6" x2="821.1" y2="167.6"/>
<line x1="869" y1="126.8" x2="869" y2="132"/>
<line x1="815.9" y1="177.2" x2="821.1" y2="177.2"/>
<line x1="879.1" y1="126.8" x2="879.1" y2="132"/>
<line x1="815.9" y1="186.7" x2="821.1" y2="186.7"/>
<line x1="889.2" y1="126.8" x2="889.2" y2="132"/>
<line x1="815.9" y1="196.2" x2="821.1" y2="196.2"/>
<line x1="899.3" y1="126.8" x2="899.3" y2="132"/>
<line x1="815.9" y1="205.8" x2="821.1" y2="205.8"/>
<line x1="909.4" y1="126.8" x2="909.4" y2="132"/>
<line x1="815.9" y1="215.4" x2="821.1" y2="215.4"/>
</g></g>
<g transform="translate(797.4,149) rotate(-45)">
<text x="0" y="3.8" font-size="11" textLength="14" lengthAdjust="spacing" text-anchor="middle" fill="rgb(170,170,170)">15</text>
</g>
<g transform="translate(775.8,170.5) rotate(-45)">
<text x="0" y="3.8" font-size="11" textLength="14" lengthAdjust="spacing" text-anchor="middle" fill="rgb(170,170,170)">30</text>
</g>
<g transform="translate(754.3,190.8) rotate(-45)">
<text x="0" y="3.8" font-size="11" textLength="14" lengthAdjust="spacing" text-anchor="middle" fill="rgb(170,170,170)">45</text>
</g>
<text transform="translate(731.5,56.3) scale(1.200,1)" textLength="11.2" lengthAdjust="spacing" font-size="11.5" stroke="#fff" stroke-width="0.16">kt</text>
<path d="M810.6 113.9L808.9 106.8L822.8 82.3L820.5 80.2L826.1 57L815.8 60" stroke="#000" stroke-width="1.3" fill="none"/>
<circle cx="810.6" cy="113.9" r="2.1"/><circle cx="815.8" cy="60" r="2.1"/>
<line x1="818.5" y1="129.4" x2="837.3" y2="88.2" stroke="#000" stroke-width="1.4"/>
<polygon points="838.6,85.5 832.2,89.6 839.6,92.6"/>
<rect x="726.3" y="42.9" width="182.7" height="172.5" fill="none" stroke="#000" stroke-width="1.8"/>
<g fill="none" stroke="#111" stroke-width="1.3">
<rect x="727.4" y="233.1" width="199.9" height="69.5"/>
<rect x="727.4" y="302.6" width="199.9" height="154.4"/>
<rect x="727.4" y="457" width="199.9" height="134"/>
<rect x="727.4" y="591" width="199.9" height="111.6"/>
</g>
<g font-size="14.8">
<text x="731.2" y="251.3" stroke="#fff" stroke-width="0.16">K</text>
<text transform="translate(872.4,251.3) scale(1.179,1)" textLength="18.8" lengthAdjust="spacing" stroke="#fff" stroke-width="0.16">26</text>
<text transform="translate(731.2,272.6) scale(1.200,1)" textLength="43.7" lengthAdjust="spacing" stroke="#fff" stroke-width="0.16">Totals</text>
<text transform="translate(792.8,272.6) scale(1.200,1)" textLength="43.7" lengthAdjust="spacing" stroke="#fff" stroke-width="0.16">Totals</text>
<text transform="translate(872.4,272.6) scale(1.179,1)" textLength="18.8" lengthAdjust="spacing" stroke="#fff" stroke-width="0.16">52</text>
<text transform="translate(731.2,294.2) scale(1.095,1)" textLength="23.6" lengthAdjust="spacing" stroke="#fff" stroke-width="0.16">PW</text>
<text transform="translate(767.8,294.2) scale(1.200,1)" textLength="34.8" lengthAdjust="spacing" stroke="#fff" stroke-width="0.16">(cm)</text>
<text transform="translate(872.4,294.2) scale(1.200,1)" textLength="33" lengthAdjust="spacing" stroke="#fff" stroke-width="0.16">1.84</text>
<text transform="translate(731.2,341.7) scale(1.148,1)" textLength="39.4" lengthAdjust="spacing" stroke="#fff" stroke-width="0.16">Temp</text>
<text transform="translate(789,341.7) scale(1.200,1)" textLength="29.6" lengthAdjust="spacing" stroke="#fff" stroke-width="0.16">(°C)</text>
<text transform="translate(872.4,341.7) scale(1.173,1)" textLength="23.5" lengthAdjust="spacing" stroke="#fff" stroke-width="0.16">8.2</text>
<text transform="translate(731.2,363) scale(1.062,1)" textLength="42" lengthAdjust="spacing" stroke="#fff" stroke-width="0.16">Dewp</text>
<text transform="translate(787.3,363) scale(1.200,1)" textLength="29.5" lengthAdjust="spacing" stroke="#fff" stroke-width="0.16">(°C)</text>
<text transform="translate(872.4,363) scale(1.173,1)" textLength="23.5" lengthAdjust="spacing" stroke="#fff" stroke-width="0.16">7.4</text>
<text x="732" y="385" stroke="#fff" stroke-width="0.16"><tspan class="thb">θ</tspan><tspan class="ths" dy="2.6" dx="0.8">E</tspan></text>
<text transform="translate(748,385) scale(1.200,1)" textLength="22.3" lengthAdjust="spacing" stroke="#fff" stroke-width="0.16">(K)</text>
<text transform="translate(872.4,385) scale(1.189,1)" textLength="28.2" lengthAdjust="spacing" stroke="#fff" stroke-width="0.16">298</text>
<text transform="translate(731.2,407) scale(1.173,1)" textLength="41.6" lengthAdjust="spacing" stroke="#fff" stroke-width="0.16">Lifted</text>
<text transform="translate(790.3,407) scale(1.126,1)" textLength="40.7" lengthAdjust="spacing" stroke="#fff" stroke-width="0.16">Index</text>
<text x="872.4" y="407" stroke="#fff" stroke-width="0.16">5</text>
<text transform="translate(731.2,428.2) scale(1.151,1)" textLength="38.7" lengthAdjust="spacing" stroke="#fff" stroke-width="0.16">CAPE</text>
<text transform="translate(786.8,428.2) scale(1.200,1)" textLength="20.2" lengthAdjust="spacing" stroke="#fff" stroke-width="0.16">(J)</text>
<text x="872.4" y="428.2" stroke="#fff" stroke-width="0.16">0</text>
<text transform="translate(731.2,449.5) scale(1.048,1)" textLength="25.8" lengthAdjust="spacing" stroke="#fff" stroke-width="0.16">CIN</text>
<text transform="translate(771,449.5) scale(1.200,1)" textLength="20" lengthAdjust="spacing" stroke="#fff" stroke-width="0.16">(J)</text>
<text x="872.4" y="449.5" stroke="#fff" stroke-width="0.16">0</text>
<text transform="translate(731.2,497.1) scale(1.200,1)" textLength="64.4" lengthAdjust="spacing" stroke="#fff" stroke-width="0.16">Pressure</text>
<text transform="translate(819.6,497.1) scale(1.193,1)" textLength="35.4" lengthAdjust="spacing" stroke="#fff" stroke-width="0.16">(mb)</text>
<text transform="translate(872.4,497.1) scale(1.189,1)" textLength="28.2" lengthAdjust="spacing" stroke="#fff" stroke-width="0.16">750</text>
<text x="732" y="519.1" stroke="#fff" stroke-width="0.16"><tspan class="thb">θ</tspan><tspan class="ths" dy="2.6" dx="0.8">E</tspan></text>
<text transform="translate(757.3,519.1) scale(1.200,1)" textLength="22.7" lengthAdjust="spacing" stroke="#fff" stroke-width="0.16">(K)</text>
<text transform="translate(872.4,519.1) scale(1.119,1)" textLength="28.2" lengthAdjust="spacing" stroke="#fff" stroke-width="0.16">301</text>
<text transform="translate(731.2,540.4) scale(1.173,1)" textLength="41.6" lengthAdjust="spacing" stroke="#fff" stroke-width="0.16">Lifted</text>
<text transform="translate(790.3,540.4) scale(1.126,1)" textLength="40.7" lengthAdjust="spacing" stroke="#fff" stroke-width="0.16">Index</text>
<text x="872.4" y="540.4" stroke="#fff" stroke-width="0.16">3</text>
<text transform="translate(731.2,561.6) scale(1.151,1)" textLength="38.7" lengthAdjust="spacing" stroke="#fff" stroke-width="0.16">CAPE</text>
<text transform="translate(786.8,561.6) scale(1.200,1)" textLength="20.2" lengthAdjust="spacing" stroke="#fff" stroke-width="0.16">(J)</text>
<text x="872.4" y="561.6" stroke="#fff" stroke-width="0.16">0</text>
<text transform="translate(731.2,583.2) scale(1.048,1)" textLength="25.8" lengthAdjust="spacing" stroke="#fff" stroke-width="0.16">CIN</text>
<text transform="translate(771,583.2) scale(1.200,1)" textLength="20" lengthAdjust="spacing" stroke="#fff" stroke-width="0.16">(J)</text>
<text x="872.4" y="583.2" stroke="#fff" stroke-width="0.16">0</text>
<text transform="translate(731.2,630.7) scale(1.138,1)" textLength="20.5" lengthAdjust="spacing" stroke="#fff" stroke-width="0.16">EH</text>
<text transform="translate(872.4,630.7) scale(1.179,1)" textLength="18.8" lengthAdjust="spacing" stroke="#fff" stroke-width="0.16">36</text>
<text transform="translate(731.2,652.3) scale(1.153,1)" textLength="40.2" lengthAdjust="spacing" stroke="#fff" stroke-width="0.16">SREH</text>
<text transform="translate(872.4,652.3) scale(1.179,1)" textLength="18.8" lengthAdjust="spacing" stroke="#fff" stroke-width="0.16">52</text>
<text transform="translate(731.2,673.9) scale(1.154,1)" textLength="51.2" lengthAdjust="spacing" stroke="#fff" stroke-width="0.16">StmDir</text>
<text transform="translate(872.4,673.9) scale(1.161,1)" textLength="35.6" lengthAdjust="spacing" stroke="#fff" stroke-width="0.16">204°</text>
<text transform="translate(731.2,695.2) scale(1.170,1)" textLength="57.8" lengthAdjust="spacing" stroke="#fff" stroke-width="0.16">StmSpd</text>
<text transform="translate(810,695.2) scale(1.200,1)" textLength="26" lengthAdjust="spacing" stroke="#fff" stroke-width="0.16">(kt)</text>
<text transform="translate(872.4,695.2) scale(1.179,1)" textLength="18.8" lengthAdjust="spacing" stroke="#fff" stroke-width="0.16">25</text>
<text transform="translate(786.2,320.4) scale(1.195,1)" textLength="56.4" lengthAdjust="spacing" stroke="#fff" stroke-width="0.16">Surface</text>
<text transform="translate(752.5,475.5) scale(1.152,1)" textLength="35.3" lengthAdjust="spacing" stroke="#fff" stroke-width="0.16">Most</text>
<text transform="translate(803.2,475.5) scale(1.156,1)" textLength="65.4" lengthAdjust="spacing" stroke="#fff" stroke-width="0.16">Unstable</text>
<text transform="translate(770,609.4) scale(1.168,1)" textLength="82" lengthAdjust="spacing" stroke="#fff" stroke-width="0.16">Hodograph</text>
</g>
<g font-size="16">
<text transform="translate(735.1,726.4) scale(1.200,1)" textLength="126.2" lengthAdjust="spacing" fill="#fff" stroke="#c2c2c2" stroke-width="0.7">WetterOnline</text>
<text x="713.6" y="727.6" font-size="19.5">©</text>
<text transform="translate(737.3,726.8) scale(1.250,1)" textLength="171.4" lengthAdjust="spacing" >weatheronline.co.uk</text>
</g>
</svg>
</body></html>
